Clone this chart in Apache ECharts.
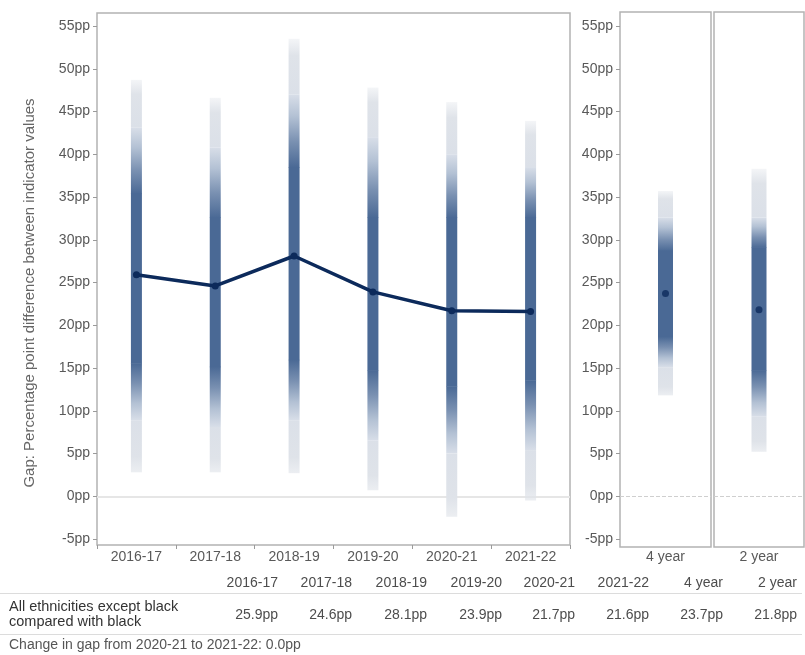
<!DOCTYPE html>
<html>
<head>
<meta charset="utf-8">
<script src="https://cdn.jsdelivr.net/npm/echarts@6/dist/echarts.min.js"></script>
<style>
html,body{margin:0;padding:0;background:#fff;}
#chart{width:805px;height:655px;}
</style>
</head>
<body>
<div id="chart"></div>
<script>
// ---- data ----
const categories = ['2016-17', '2017-18', '2018-19', '2019-20', '2020-21', '2021-22'];
const gap        = [25.9, 24.6, 28.1, 23.9, 21.7, 21.6];
const upper      = [48.7, 46.6, 53.5, 47.8, 46.1, 43.9];
const upperFade  = [43.1, 40.8, 47.0, 42.0, 40.0, 38.5];
const upperDark  = [35.4, 32.6, 38.5, 32.6, 32.6, 32.6];
const lowerDark  = [15.5, 15.1, 15.9, 14.7, 12.8, 13.5];
const lowerFade  = [8.9, 8.1, 8.9, 6.5, 5.0, 5.4];
const lower      = [2.8, 2.8, 2.7, 0.7, -2.4, -0.5];

const periods         = ['4 year', '2 year'];
const periodGap       = [23.7, 21.8];
const periodUpper     = [35.7, 38.3];
const periodUpperFade = [32.6, 32.6];
const periodUpperDark = [28.7, 29.1];
const periodLowerDark = [18.6, 14.7];
const periodLowerFade = [15.1, 9.3];
const periodLower     = [11.8, 5.2];

const yTicks = { min: -5, max: 55, step: 5 };
const rowLabel = ['All ethnicities except black', 'compared with black'];
const changeFrom = '2020-21', changeTo = '2021-22', changeInGap = 0.0;
const yTitle = 'Gap: Percentage point difference between indicator values';

// ---- styling ----
const FONT = '"Liberation Sans", Arial, sans-serif';
const DARK = '#4a6995';
const LIGHT = '#dfe3e9';
const NAVY = '#0c2a5b';

function bandRender(barW) {
  return function (params, api) {
    const idx = api.value(0);
    const x = api.coord([idx, 0])[0];
    const y = [1, 2, 3, 4, 5, 6].map(i => api.coord([idx, api.value(i)])[1]);
    const L = x - barW / 2;
    const G = echarts.graphic.LinearGradient;
    const rect = (y0, y1, fill) => ({
      type: 'rect',
      shape: { x: L, y: y0, width: barW, height: Math.max(0.5, y1 - y0) },
      style: { fill: fill }
    });
    return {
      type: 'group',
      children: [
        rect(y[0], y[1], new G(0, 0, 0, 1, [{offset: 0, color: 'rgba(223,227,233,0.35)'}, {offset: 0.3, color: LIGHT}, {offset: 1, color: '#dbe0e8'}])),
        rect(y[1], y[2] + 0.5, new G(0, 0, 0, 1, [{offset: 0, color: '#d8dee8'}, {offset: 0.3, color: '#b3c1d4'}, {offset: 0.65, color: '#7990b1'}, {offset: 1, color: DARK}])),
        rect(y[2], y[3], DARK),
        rect(y[3] - 0.5, y[4], new G(0, 0, 0, 1, [{offset: 0, color: DARK}, {offset: 0.35, color: '#7990b1'}, {offset: 0.7, color: '#b3c1d4'}, {offset: 1, color: '#d8dee8'}])),
        rect(y[4], y[5], new G(0, 0, 0, 1, [{offset: 0, color: '#dbe0e8'}, {offset: 0.7, color: LIGHT}, {offset: 1, color: 'rgba(223,227,233,0.6)'}]))
      ]
    };
  };
}

const mainBands = categories.map((c, i) => [i, upper[i], upperFade[i], upperDark[i], lowerDark[i], lowerFade[i], lower[i]]);
const periodBands = periods.map((p, i) => [[0, periodUpper[i], periodUpperFade[i], periodUpperDark[i], periodLowerDark[i], periodLowerFade[i], periodLower[i]]]);

const frameGrid = (left, top, width, height) => ({ left, top, width, height, show: true, borderColor: '#b3b3b3', borderWidth: 1.5, backgroundColor: 'transparent', containLabel: false });
const dataGrid = (left, width) => ({ left, top: 26, width, height: 513, containLabel: false });

const axisLabelStyle = { color: '#595959', fontSize: 14, fontFamily: FONT };

function valueAxis(gridIndex, showLabels) {
  return {
    type: 'value', gridIndex, min: yTicks.min, max: yTicks.max, interval: yTicks.step,
    axisLine: { show: false, onZero: false },
    axisTick: { show: showLabels, length: 4, lineStyle: { color: '#9a9a9a' } },
    axisLabel: Object.assign({ show: showLabels, margin: 7, formatter: '{value}pp' }, axisLabelStyle),
    splitLine: { show: false }
  };
}
function catAxis(gridIndex, data, ticks) {
  return {
    type: 'category', gridIndex, data, offset: 6, position: 'bottom',
    axisLine: { show: false, onZero: false },
    axisTick: { show: ticks, length: 4, lineStyle: { color: '#9a9a9a' } },
    axisLabel: Object.assign({ margin: 5 }, axisLabelStyle),
    splitLine: { show: false }
  };
}
const hiddenX = g => ({ type: 'value', gridIndex: g, show: false });
const hiddenY = g => ({ type: 'value', gridIndex: g, show: false });

// table
const colRight = [278, 352, 427, 502, 575, 649, 723, 797];
const tableHeads = categories.concat(periods);
const tableVals = gap.concat(periodGap).map(v => v.toFixed(1) + 'pp');
const txt = (text, x, y, align, extra) => ({
  type: 'text', x, y, silent: true,
  style: Object.assign({ text, textAlign: align, textVerticalAlign: 'middle', fill: '#4d4d4d', fontSize: 14, fontFamily: FONT }, extra || {})
});
const graphics = [];
tableHeads.forEach((h, i) => graphics.push(txt(h, colRight[i], 583, 'right')));
tableVals.forEach((v, i) => graphics.push(txt(v, colRight[i], 615, 'right')));
graphics.push(txt(rowLabel[0], 9, 607, 'left', { fill: '#333', fontSize: 14.5 }));
graphics.push(txt(rowLabel[1], 9, 622, 'left', { fill: '#333', fontSize: 14.5 }));
graphics.push({ type: 'line', silent: true, shape: { x1: 0, y1: 593.5, x2: 802, y2: 593.5 }, style: { stroke: '#dcdcdc', lineWidth: 1 } });
graphics.push({ type: 'line', silent: true, shape: { x1: 0, y1: 634.5, x2: 802, y2: 634.5 }, style: { stroke: '#dcdcdc', lineWidth: 1 } });
graphics.push(txt('Change in gap from ' + changeFrom + ' to ' + changeTo + ': ' + changeInGap.toFixed(1) + 'pp', 9, 645, 'left', { fill: '#555' }));
graphics.push({ type: 'text', x: 30, y: 293, rotation: Math.PI / 2, silent: true,
  style: { text: yTitle, textAlign: 'center', textVerticalAlign: 'middle', fill: '#666', fontSize: 15, fontFamily: FONT } });

const zeroLine = (dashed) => ({
  silent: true, symbol: 'none', z: 1,
  label: { show: false },
  lineStyle: { color: dashed ? '#cfcfcf' : '#e6e6e6', width: dashed ? 1 : 2, type: dashed ? 'dashed' : 'solid' },
  data: [{ yAxis: 0 }]
});

const option = {
  animation: false,
  backgroundColor: '#fff',
  textStyle: { fontFamily: FONT },
  grid: [
    frameGrid(97, 13, 473, 532),
    frameGrid(620, 12, 91, 535),
    frameGrid(714, 12, 90, 535),
    dataGrid(97, 473),
    dataGrid(620, 91),
    dataGrid(714, 90)
  ],
  xAxis: [hiddenX(0), hiddenX(1), hiddenX(2), catAxis(3, categories, true), catAxis(4, [periods[0]], false), catAxis(5, [periods[1]], false)],
  yAxis: [hiddenY(0), hiddenY(1), hiddenY(2), valueAxis(3, true), valueAxis(4, true), valueAxis(5, false)],
  graphic: graphics,
  series: [
    { type: 'custom', xAxisIndex: 3, yAxisIndex: 3, z: 3, renderItem: bandRender(11), data: mainBands, silent: true },
    { type: 'line', xAxisIndex: 3, yAxisIndex: 3, z: 5, data: gap, symbol: 'circle', symbolSize: 7,
      lineStyle: { color: NAVY, width: 3.5 }, itemStyle: { color: NAVY }, markLine: zeroLine(false) },
    { type: 'custom', xAxisIndex: 4, yAxisIndex: 4, z: 3, renderItem: bandRender(15), data: periodBands[0], silent: true },
    { type: 'custom', xAxisIndex: 5, yAxisIndex: 5, z: 3, renderItem: bandRender(15), data: periodBands[1], silent: true },
    { type: 'scatter', xAxisIndex: 4, yAxisIndex: 4, z: 5, data: [periodGap[0]], symbol: 'circle', symbolSize: 7, itemStyle: { color: NAVY }, markLine: zeroLine(true) },
    { type: 'scatter', xAxisIndex: 5, yAxisIndex: 5, z: 5, data: [periodGap[1]], symbol: 'circle', symbolSize: 7, itemStyle: { color: NAVY }, markLine: zeroLine(true) }
  ]
};

const chart = echarts.init(document.getElementById('chart'), null, { renderer: 'canvas' });
chart.setOption(option);
</script>
</body>
</html>
